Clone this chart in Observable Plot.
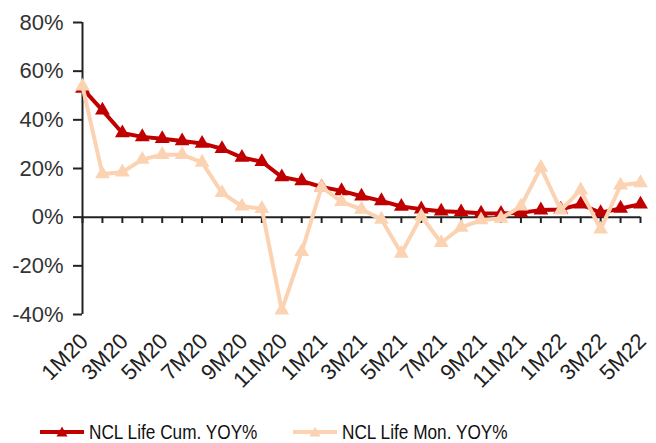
<!DOCTYPE html>
<html><head><meta charset="utf-8">
<script src="https://cdn.jsdelivr.net/npm/d3@7"></script>
<script src="https://cdn.jsdelivr.net/npm/@observablehq/plot@0.6"></script>
<style>
body{margin:0;background:#fff;font-family:"Liberation Sans",Arial,sans-serif;}
#chart{width:656px;height:443px;position:relative;overflow:hidden;background:#fff}
.leg{position:absolute;top:420px;height:24px;display:flex;align-items:center;font-size:21px;color:#111;white-space:nowrap}
.leg svg{margin-right:5px;flex:none}
.leg span{display:inline-block;transform:scaleX(0.82);transform-origin:0 50%}
</style></head><body><div id="chart"></div>
<script>
const months = ["1M20","2M20","3M20","4M20","5M20","6M20","7M20","8M20","9M20","10M20","11M20","12M20",
  "1M21","2M21","3M21","4M21","5M21","6M21","7M21","8M21","9M21","10M21","11M21","12M21",
  "1M22","2M22","3M22","4M22","5M22"];
const tickLabels = ["1M20","3M20","5M20","7M20","9M20","11M20","1M21","3M21","5M21","7M21","9M21","11M21","1M22","3M22","5M22"];
const cumYoy = [52.9,43.9,34.6,33.0,32.2,31.3,30.3,28.1,24.5,22.8,16.5,14.9,12.4,10.8,8.6,6.7,4.4,3.3,2.4,2.1,1.6,1.5,1.8,2.9,3.2,5.3,1.8,3.6,5.3];
const monYoy = [53.8,17.7,18.5,23.7,25.7,25.7,22.5,10.0,4.5,3.5,-38.2,-14.2,12.4,6.3,3.2,-0.9,-14.9,0.4,-10.5,-4.2,-1.2,-0.5,4.5,20.4,2.9,11.1,-5.0,13.1,14.1];
const yTicks = [-40,-20,0,20,40,60,80];
const seriesNames = ["NCL Life Cum. YOY%","NCL Life Mon. YOY%"];
const seriesColors = ["#C00000","#FBD3B2"];

const cumData = months.map((m,i)=>({m, v: cumYoy[i]}));
const monData = months.map((m,i)=>({m, v: monYoy[i]}));

const H = 410;
const chart = Plot.plot({
  width: 656, height: H,
  marginLeft: 82, marginRight: 16, marginTop: 22, marginBottom: H - 314,
  x: {type: "point", domain: months, padding: 0, round: false, label: null, axis: null},
  y: {domain: [-40, 80], label: null},
  style: {fontFamily: "Liberation Sans, Arial, sans-serif", fontSize: "22px", color: "#333", background: "#fff", overflow: "visible"},
  marks: [
    Plot.axisY({ticks: yTicks, tickFormat: d => d + "%", tickSize: 9, tickPadding: 10, strokeWidth: 2, stroke: "#222", fill: "#333", label: null}),
    Plot.ruleX([months[0]], {y1: -40, y2: 80, stroke: "#222", strokeWidth: 2}),
    Plot.ruleY([0], {stroke: "#222", strokeWidth: 2}),
    Plot.ruleX(months, {x: d => d, y1: 0, y2: -2.6, stroke: "#222", strokeWidth: 2}),
    Plot.text(tickLabels, {x: d => d, frameAnchor: "bottom", rotate: -45, textAnchor: "end", lineAnchor: "middle", dx: 2, dy: 23, fill: "#222", fontSize: 22}),
    Plot.line(cumData, {x: "m", y: "v", stroke: seriesColors[0], strokeWidth: 4}),
    Plot.dot(cumData, {x: "m", y: "v", symbol: "triangle", r: 5.5, fill: seriesColors[0]}),
    Plot.line(monData, {x: "m", y: "v", stroke: seriesColors[1], strokeWidth: 4}),
    Plot.dot(monData, {x: "m", y: "v", symbol: "triangle", r: 5.5, fill: seriesColors[1]})
  ]
});
const root = document.getElementById("chart");
root.appendChild(chart);

const legLeft = [40, 293];
seriesNames.forEach((name, i) => {
  const d = document.createElement("div");
  d.className = "leg";
  d.style.left = legLeft[i] + "px";
  d.innerHTML = `<svg width="44" height="12"><line x1="0" x2="44" y1="6" y2="6" stroke="${seriesColors[i]}" stroke-width="4"/><path d="M22,0.5 L27.5,10.5 L16.5,10.5 Z" fill="${seriesColors[i]}"/></svg><span>${name}</span>`;
  root.appendChild(d);
});
</script>
</body></html>
